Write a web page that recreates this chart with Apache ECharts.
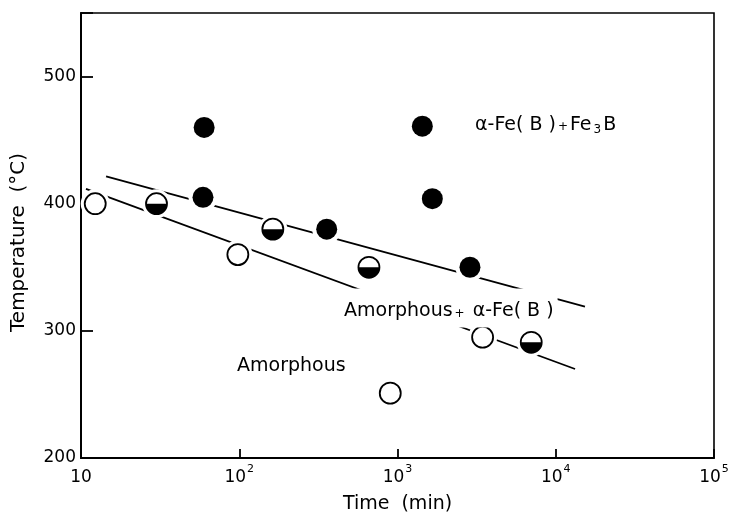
<!DOCTYPE html>
<html>
<head>
<meta charset="utf-8">
<script src="https://cdn.jsdelivr.net/npm/echarts@6/dist/echarts.min.js"></script>
<style>
  html, body { margin: 0; padding: 0; background: #fff; }
  #chart { width: 735px; height: 515px; }
</style>
</head>
<body>
<div id="chart"></div>
<script>
// ---- data ----
const openTime   = [12.3, 98, 3450, 900];
const openTemp   = [400, 360, 295, 251];
const halfTime   = [30, 163, 660, 7000];
const halfTemp   = [400, 380, 350, 291];
const filledTime = [60, 59, 357, 1435, 1660, 2870];
const filledTemp = [460, 405, 380, 461, 404, 350];
// boundary lines (end points)
const upperLineTime = [14.4, 15300];
const upperLineTemp = [421.5, 319];
const lowerLineTime = [10.75, 13250];
const lowerLineTemp = [411.6, 270];
// tick values
const xTicks = [10, 100, 1000, 10000, 100000];
const yTicks = [200, 300, 400, 500];
// annotations (text, time, temperature of left-middle anchor)
const annText = ['α-Fe(B)+Fe3B', 'Amorphous+ α-Fe(B)', 'Amorphous'];
const annTime = [3000, 446, 94];
const annTemp = [465, 318, 275];

const FONT = 'DejaVu Sans';
const zip = (a, b) => a.map((v, i) => [v, b[i]]);
const allPts = zip(openTime, openTemp).concat(zip(halfTime, halfTemp), zip(filledTime, filledTemp));

const chart = echarts.init(document.getElementById('chart'), null, { renderer: 'canvas' });

const annRich = {
  t: { fontFamily: FONT, fontSize: 19, color: '#000', lineHeight: 22 },
  p: { fontFamily: FONT, fontSize: 12, color: '#000', lineHeight: 22, padding: [5, 2, 0, 2] },
  s: { fontFamily: FONT, fontSize: 12, color: '#000', lineHeight: 22, verticalAlign: 'bottom', padding: [9, 2, 0, 2] }
};
function annFormat(txt) {
  if (txt === 'α-Fe(B)+Fe3B') return '{t|α-Fe( B )}{p|+}{t|Fe}{s|3}{t|B}';
  if (txt === 'Amorphous+ α-Fe(B)') return '{t|Amorphous}{p|+}{t| α-Fe( B )}';
  return '{t|' + txt + '}';
}

const solid = c => ({ color: c, opacity: 1 });

const option = {
  animation: false,
  backgroundColor: '#fff',
  grid: { left: 81, right: 21, top: 13, bottom: 57, show: true, borderColor: '#000', borderWidth: 1.6,
          containLabel: false, outerBoundsMode: 'none' },
  xAxis: {
    type: 'log', logBase: 10, min: 10, max: 100000,
    name: 'Time  (min)', nameLocation: 'middle', nameGap: 37,
    nameTextStyle: { fontFamily: FONT, fontSize: 19, color: '#000' },
    axisLine: { lineStyle: { color: '#000', width: 2 } },
    axisTick: { inside: true, length: 9, lineStyle: { color: '#000', width: 1.8 } },
    minorTick: { show: false },
    splitLine: { show: false },
    axisLabel: {
      margin: 6,
      formatter: function (v) {
        const e = Math.round(Math.log10(v));
        if (e === 1) return '{b|10}';
        return '{b|10}{s|' + e + '}';
      },
      rich: {
        b: { fontFamily: FONT, fontSize: 17, color: '#000', lineHeight: 22, verticalAlign: 'bottom' },
        s: { fontFamily: FONT, fontSize: 11, color: '#000', lineHeight: 22, verticalAlign: 'top', padding: [0, 0, 0, 1] }
      }
    }
  },
  yAxis: {
    type: 'value', min: 200, max: 550, interval: 100,
    name: 'Temperature  (°C)', nameLocation: 'middle', nameGap: 52, nameRotate: 90,
    nameTextStyle: { fontFamily: FONT, fontSize: 20, color: '#000', padding: [0, 14, 0, 0] },
    axisLine: { lineStyle: { color: '#000', width: 2 } },
    axisTick: { inside: true, length: 12, lineStyle: { color: '#000', width: 1.8 } },
    splitLine: { show: false },
    axisLabel: {
      margin: 5, fontFamily: FONT, fontSize: 17, color: '#000',
      formatter: function (v) { return yTicks.indexOf(v) >= 0 ? String(v) : ''; }
    }
  },
  series: [
    { type: 'line', z: 2, silent: true, symbol: 'none', data: zip(upperLineTime, upperLineTemp),
      lineStyle: { color: '#000', width: 1.8, opacity: 1 } },
    { type: 'line', z: 2, silent: true, symbol: 'none', data: zip(lowerLineTime, lowerLineTemp),
      lineStyle: { color: '#000', width: 1.8, opacity: 1 } },
    // white halos that break the lines around the markers
    { type: 'scatter', z: 3, silent: true, symbol: 'circle', symbolSize: 29, data: allPts,
      itemStyle: solid('#fff') },
    // open circles
    { type: 'scatter', z: 4, symbol: 'circle', symbolSize: 21, data: zip(openTime, openTemp),
      itemStyle: { color: '#fff', borderColor: '#000', borderWidth: 1.8, opacity: 1 } },
    // half filled: outline
    { type: 'scatter', z: 4, symbol: 'circle', symbolSize: 21, data: zip(halfTime, halfTemp),
      itemStyle: { color: '#fff', borderColor: '#000', borderWidth: 1.8, opacity: 1 } },
    // half filled: lower half disc
    { type: 'scatter', z: 5, symbol: 'path://M0,0 A10,10 0 0 0 20,0 Z', symbolKeepAspect: true,
      symbolSize: 21, symbolOffset: [0, '25%'], data: zip(halfTime, halfTemp),
      itemStyle: solid('#000') },
    // filled circles
    { type: 'scatter', z: 4, symbol: 'circle', symbolSize: 21, data: zip(filledTime, filledTemp),
      itemStyle: solid('#000') },
    // annotations
    { type: 'scatter', z: 6, silent: true, symbolSize: 0,
      itemStyle: solid('#fff'),
      data: annText.map((t, i) => ({ value: [annTime[i], annTemp[i]], name: t })),
      label: {
        show: true, position: 'right', distance: 0, opacity: 1,
        formatter: p => annFormat(p.name),
        rich: annRich,
        backgroundColor: '#fff', padding: [12, 4, 5, 2]
      }
    }
  ]
};
chart.setOption(option);
</script>
</body>
</html>
